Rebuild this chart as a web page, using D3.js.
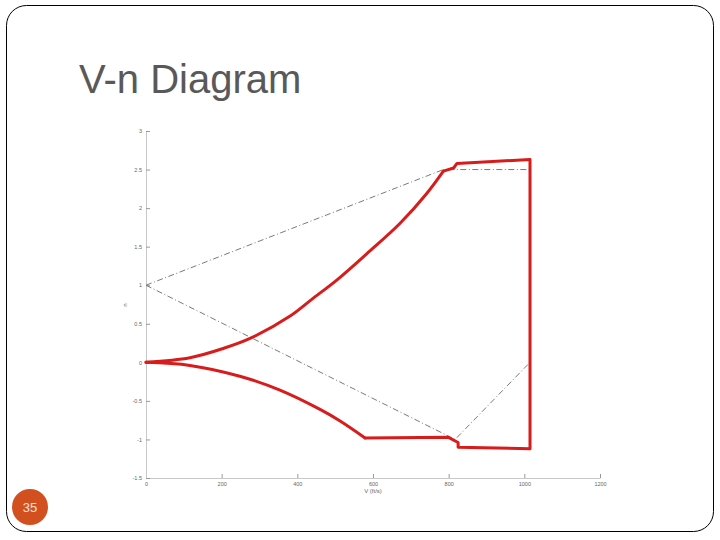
<!DOCTYPE html>
<html>
<head>
<meta charset="utf-8">
<script src="https://cdn.jsdelivr.net/npm/d3@7"></script>
<style>
  html, body { margin: 0; padding: 0; background: #fff; }
  svg { display: block; font-family: "Liberation Sans", Arial, sans-serif; }
</style>
</head>
<body>
<svg id="chart" width="720" height="540"></svg>
<script>
// V-n diagram data (speed in ft/s, load factor n)
var xTicks = [0, 200, 400, 600, 800, 1000, 1200];
var yTicks = [3, 2.5, 2, 1.5, 1, 0.5, 0, -0.5, -1, -1.5];

// Positive stall curve (smooth)
var posStallV = [0, 116, 204, 275, 381, 439, 505, 584, 671, 742, 786];
var posStallN = [0, 0.06, 0.18, 0.31, 0.6, 0.82, 1.07, 1.41, 1.8, 2.19, 2.48];

// Corner, dive speed edge and negative cap (straight pieces)
var edgeV = [786, 813, 822, 1015, 1015, 825, 825, 798, 579];
var edgeN = [2.48, 2.52, 2.58, 2.63, -1.12, -1.1, -1.04, -0.97, -0.98];

// Negative stall curve (smooth)
var negStallV = [579, 513, 460, 354, 248, 116, 0];
var negStallN = [-0.98, -0.76, -0.61, -0.36, -0.18, -0.04, 0];

// Gust lines (dash-dot grey)
var gustUpV = [0, 786, 1015];
var gustUpN = [1, 2.5, 2.5];
var gustDownV = [0, 817, 1015];
var gustDownN = [1, -1, 0];

(function () {
  'use strict';

  var svg = d3.select('#chart');

  // Slide frame
  svg.append('rect')
    .attr('x', 6.5).attr('y', 5.5)
    .attr('width', 707).attr('height', 526)
    .attr('rx', 20).attr('ry', 20)
    .attr('fill', '#fff')
    .attr('stroke', '#000')
    .attr('stroke-width', 1);

  svg.append('text')
    .attr('x', 79).attr('y', 93)
    .attr('font-size', 40)
    .attr('fill', '#595959')
    .text('V-n Diagram');

  // Slide number badge
  svg.append('circle')
    .attr('cx', 30).attr('cy', 507).attr('r', 18)
    .attr('fill', '#d2501f');
  svg.append('text')
    .attr('x', 30).attr('y', 512)
    .attr('text-anchor', 'middle')
    .attr('font-size', 13)
    .attr('fill', '#fbe3d8')
    .text('35');

  var x = d3.scaleLinear().domain([0, 1200]).range([146, 600]);
  var y = d3.scaleLinear().domain([-1.5, 3]).range([478, 131]);

  var axisColor = '#c8c8c8';
  var labelColor = '#666';
  var plain = function (d) { return String(d); };

  var xAxis = svg.append('g')
    .attr('transform', 'translate(0,478)')
    .call(d3.axisBottom(x).tickValues(xTicks).tickSizeInner(-4).tickSizeOuter(0).tickPadding(4)
      .tickFormat(plain));
  var yAxis = svg.append('g')
    .attr('transform', 'translate(146,0)')
    .call(d3.axisLeft(y).tickValues(yTicks).tickSizeInner(-4).tickSizeOuter(0).tickPadding(4)
      .tickFormat(plain));

  [xAxis, yAxis].forEach(function (ax) {
    ax.select('.domain').attr('stroke', axisColor);
    ax.selectAll('.tick line').attr('stroke', '#999');
    ax.selectAll('.tick text')
      .attr('font-size', 5.5)
      .attr('fill', labelColor)
      .attr('font-family', '"Liberation Sans", Arial, sans-serif');
  });

  svg.append('text')
    .attr('x', 373).attr('y', 493)
    .attr('text-anchor', 'middle')
    .attr('font-size', 6)
    .attr('fill', labelColor)
    .text('V (ft/s)');

  svg.append('text')
    .attr('transform', 'translate(127,305) rotate(-90)')
    .attr('text-anchor', 'middle')
    .attr('font-size', 6)
    .attr('fill', labelColor)
    .text('n');

  var line = d3.line()
    .x(function (d) { return x(d[0]); })
    .y(function (d) { return y(d[1]); });
  var smooth = d3.line()
    .x(function (d) { return x(d[0]); })
    .y(function (d) { return y(d[1]); })
    .curve(d3.curveCatmullRom.alpha(0.5));

  function zip(vs, ns) {
    return vs.map(function (v, i) { return [v, ns[i]]; });
  }

  [zip(gustUpV, gustUpN), zip(gustDownV, gustDownN)].forEach(function (pts) {
    svg.append('path')
      .datum(pts)
      .attr('d', line)
      .attr('fill', 'none')
      .attr('stroke', '#7a7a7a')
      .attr('stroke-width', 1)
      .attr('stroke-dasharray', '6,2.5,1,2.5');
  });

  var pieces = [
    { pts: zip(posStallV, posStallN), gen: smooth },
    { pts: zip(edgeV, edgeN), gen: line },
    { pts: zip(negStallV, negStallN), gen: smooth }
  ];
  pieces.forEach(function (p) {
    svg.append('path')
      .datum(p.pts)
      .attr('d', p.gen)
      .attr('fill', 'none')
      .attr('stroke', '#d81c1c')
      .attr('stroke-width', 3)
      .attr('stroke-linejoin', 'round')
      .attr('stroke-linecap', 'round');
  });
})();
</script>
</body>
</html>
